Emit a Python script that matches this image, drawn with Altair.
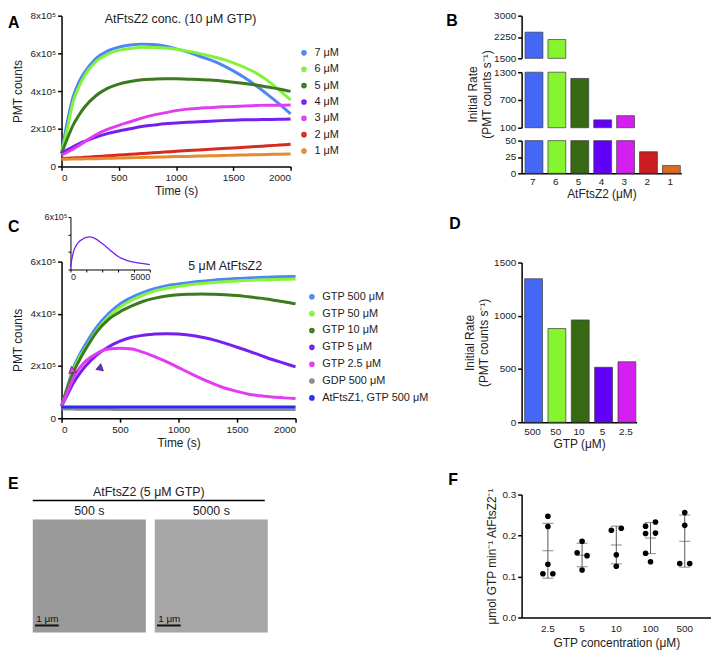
import altair as alt
import pandas as pd

FONT = "Liberation Sans"
EXPR5 = "datum.value == 0 ? '0' : datum.value + 'x10⁵'"

# ---------------- Panel A data (PMT counts, x10^5) ----------------
tA = [0, 50, 100, 150, 200, 300, 400, 500, 600, 700, 800, 900, 1000,
      1100, 1200, 1300, 1400, 1500, 1600, 1700, 1800, 1900, 2000]
concA = ["7 μM", "6 μM", "5 μM", "4 μM", "3 μM", "2 μM", "1 μM"]
colorsA = ["#4f87f2", "#82f23a", "#3c7a1e", "#7420f0", "#e23cf2", "#d62b1f", "#e58a2f"]
a7 = [0.68, 2.35, 3.67, 4.45, 4.98, 5.72, 6.12, 6.33, 6.44, 6.49, 6.47, 6.39, 6.24,
      6.08, 5.86, 5.65, 5.39, 5.07, 4.70, 4.28, 3.81, 3.32, 2.79]
a6 = [0.68, 2.00, 3.40, 4.20, 4.80, 5.56, 5.95, 6.16, 6.26, 6.32, 6.31, 6.28, 6.22,
      6.12, 6.00, 5.86, 5.70, 5.50, 5.25, 4.95, 4.55, 4.05, 3.53]
a5 = [0.68, 1.47, 2.18, 2.70, 3.14, 3.75, 4.14, 4.37, 4.51, 4.60, 4.63, 4.65, 4.65,
      4.63, 4.61, 4.58, 4.53, 4.47, 4.40, 4.32, 4.21, 4.11, 3.98]
a4 = [0.68, 0.88, 1.04, 1.20, 1.33, 1.56, 1.74, 1.88, 2.00, 2.12, 2.19, 2.26, 2.30,
      2.34, 2.37, 2.40, 2.43, 2.45, 2.47, 2.48, 2.49, 2.50, 2.51]
a3 = [0.60, 0.75, 0.91, 1.10, 1.30, 1.68, 1.96, 2.18, 2.37, 2.56, 2.72, 2.84, 2.96,
      3.04, 3.09, 3.12, 3.16, 3.18, 3.21, 3.23, 3.25, 3.25, 3.26]
a2 = [0.42, 0.43, 0.45, 0.46, 0.48, 0.52, 0.56, 0.60, 0.64, 0.68, 0.72, 0.76, 0.80,
      0.84, 0.87, 0.91, 0.95, 0.98, 1.02, 1.06, 1.09, 1.13, 1.17]
a1 = [0.38, 0.38, 0.39, 0.39, 0.40, 0.41, 0.43, 0.44, 0.46, 0.47, 0.49, 0.50, 0.52,
      0.53, 0.55, 0.56, 0.58, 0.59, 0.61, 0.62, 0.63, 0.65, 0.66]
seriesA = [a7, a6, a5, a4, a3, a2, a1]

# ---------------- Panel B data ----------------
concB = ["7", "6", "5", "4", "3", "2", "1"]
rateB = [2420, 2160, 1165, 270, 360, 33, 12]
colorsB = ["#4467f5", "#86f530", "#376914", "#6200f7", "#d41ff0", "#cc1b21", "#d86b25"]

# ---------------- Panel C data (PMT counts, x10^5) ----------------
tC = tA
condC = ["GTP 500 μM", "GTP 50 μM", "GTP 10 μM", "GTP 5 μM", "GTP 2.5 μM",
         "GDP 500 μM", "AtFtsZ1, GTP 500 μM"]
colorsC = ["#4f87f2", "#86f53a", "#3c7a1e", "#7420f0", "#e23cf2", "#8a8a8a", "#2a2af0"]
c500 = [0.46, 1.20, 1.91, 2.40, 2.80, 3.49, 4.00, 4.38, 4.63, 4.82, 4.97, 5.08, 5.14,
        5.20, 5.25, 5.29, 5.32, 5.35, 5.37, 5.39, 5.41, 5.42, 5.43]
c50 = [0.46, 1.15, 1.80, 2.30, 2.65, 3.35, 3.88, 4.25, 4.52, 4.72, 4.88, 4.98, 5.05,
       5.11, 5.16, 5.20, 5.23, 5.26, 5.28, 5.30, 5.31, 5.32, 5.33]
c10 = [0.46, 1.15, 1.75, 2.20, 2.60, 3.30, 3.78, 4.08, 4.30, 4.48, 4.60, 4.68, 4.73,
       4.75, 4.76, 4.75, 4.73, 4.70, 4.65, 4.60, 4.53, 4.46, 4.38]
c5 = [0.46, 0.90, 1.34, 1.68, 1.97, 2.42, 2.73, 2.95, 3.10, 3.18, 3.23, 3.24, 3.23,
      3.18, 3.10, 3.00, 2.87, 2.72, 2.57, 2.41, 2.25, 2.11, 1.97]
c25 = [0.46, 1.00, 1.53, 1.90, 2.16, 2.48, 2.65, 2.68, 2.65, 2.52, 2.35, 2.16, 1.94,
       1.72, 1.51, 1.32, 1.15, 1.03, 0.92, 0.86, 0.81, 0.78, 0.76]
cgdp = [0.36, 0.35, 0.35, 0.34, 0.34, 0.34, 0.34, 0.33, 0.33, 0.33, 0.33, 0.33, 0.33,
        0.33, 0.33, 0.33, 0.33, 0.33, 0.33, 0.33, 0.33, 0.33, 0.33]
cz1 = [0.43, 0.43, 0.43, 0.43, 0.43, 0.43, 0.43, 0.43, 0.43, 0.43, 0.43, 0.43, 0.43,
       0.43, 0.43, 0.43, 0.43, 0.43, 0.43, 0.43, 0.43, 0.43, 0.43]
seriesC = [c500, c50, c10, c5, c25, cgdp, cz1]
# arrowheads
triT = [100, 320]
triV = [1.81, 1.91]
triCol = ["#e23cf2", "#7420f0"]
triShape = ["triangle-right", "triangle-right"]
triAng = [20, 160]
# inset (GTP 5 μM, long run)
tIn = [0, 100, 200, 350, 500, 750, 1000, 1200, 1500, 2000, 2500, 3000, 3500, 4000, 4500, 5000]
vIn = [0.30, 1.30, 2.10, 2.70, 3.10, 3.45, 3.66, 3.72, 3.58, 2.97, 2.21, 1.49, 1.07, 0.84, 0.69, 0.55]

# ---------------- Panel D data ----------------
gtpD = ["500", "50", "10", "5", "2.5"]
rateD = [1348, 880, 961, 516, 568]
colorsD = ["#4467f5", "#86f530", "#376914", "#6200f7", "#d41ff0"]

# ---------------- Panel E ----------------
imgsE = ["500 s", "5000 s"]
shadesE = ["#9a9a9a", "#a6a6a6"]

# ---------------- Panel F data ----------------
gtpF = ["2.5", "5", "10", "100", "500"]
fCat = ["2.5"] * 5 + ["5"] * 4 + ["10"] * 4 + ["100"] * 6 + ["500"] * 4
fVal = [0.247, 0.222, 0.130, 0.107, 0.107,
        0.186, 0.158, 0.151, 0.116,
        0.213, 0.218, 0.153, 0.125,
        0.223, 0.233, 0.205, 0.206, 0.157, 0.136,
        0.256, 0.225, 0.132, 0.132]
fPos = ["C", "C", "C", "L", "R",
        "C", "L", "R", "C",
        "L", "R", "C", "C",
        "L", "R", "L", "R", "L", "C",
        "C", "C", "L", "R"]
fMean = [0.163, 0.152, 0.177, 0.194, 0.186]
fLo = [0.096, 0.124, 0.131, 0.156, 0.123]
fHi = [0.230, 0.181, 0.223, 0.232, 0.250]


def note(txt, x, y, **kw):
    return alt.Chart(pd.DataFrame({"txt": [txt]})).mark_text(**kw).encode(
        text="txt:N", x=alt.value(x), y=alt.value(y))


def letter(txt, x, y):
    return note(txt, x, y, fontSize=16, fontWeight="bold", align="left",
                baseline="alphabetic", color="black")


def legend(x, y, pad):
    return alt.Legend(orient="none", legendX=x, legendY=y, title=None, symbolType="circle",
                      symbolSize=6, symbolStrokeWidth=3.2, labelFontSize=11, clipHeight=11,
                      rowPadding=pad, labelOffset=5, padding=0)


# ================= Panel A =================
dfA = pd.DataFrame({"t": tA * len(concA), "v": sum(seriesA, []),
                    "s": [c for c in concA for _ in tA]})
linesA = alt.Chart(dfA).mark_line(strokeWidth=3, interpolate="monotone").encode(
    x=alt.X("t:Q", scale=alt.Scale(domain=[0, 2000], nice=False),
            axis=alt.Axis(orient="bottom", values=[0, 500, 1000, 1500, 2000], format="d",
                          title="Time (s)", titlePadding=3)),
    y=alt.Y("v:Q", scale=alt.Scale(domain=[0, 8], nice=False),
            axis=alt.Axis(orient="left", values=[0, 2, 4, 6, 8], labelExpr=EXPR5,
                          title="PMT counts", titlePadding=6)),
    color=alt.Color("s:N", scale=alt.Scale(domain=concA, range=colorsA),
                    legend=legend(239, 32, 4.5)),
)
chartA = alt.layer(
    linesA,
    note("AtFtsZ2 conc. (10 μM GTP)", 120, 3, fontSize=12.5, baseline="middle", color="#222"),
    letter("A", -54, 12),
).properties(width=231, height=152)

# ================= Panel C =================
dfC = pd.DataFrame({"t": tC * len(condC), "v": sum(seriesC, []),
                    "s": [c for c in condC for _ in tC]})
xC = alt.X("t:Q", scale=alt.Scale(domain=[0, 2000], nice=False),
           axis=alt.Axis(orient="bottom", values=[0, 500, 1000, 1500, 2000], format="d",
                         title="Time (s)", titlePadding=3))
yC = alt.Y("v:Q", scale=alt.Scale(domain=[0, 6], nice=False),
           axis=alt.Axis(orient="left", values=[0, 2, 4, 6], labelExpr=EXPR5,
                         title="PMT counts", titlePadding=6))
linesC = alt.Chart(dfC).mark_line(strokeWidth=3, interpolate="monotone").encode(
    x=xC, y=yC,
    color=alt.Color("s:N", scale=alt.Scale(domain=condC, range=colorsC),
                    legend=legend(247, 30, 5)),
)
dfTri = pd.DataFrame({"t": triT, "v": triV, "c": triCol, "shp": triShape, "ang": triAng})
triC = alt.Chart(dfTri).mark_point(filled=True, size=60, stroke="#222", strokeWidth=0.6,
                                   opacity=1).encode(
    x=xC, y=yC,
    fill=alt.Fill("c:N", scale=None),
    shape=alt.Shape("shp:N", scale=None),
    angle=alt.Angle("ang:Q", scale=None),
)
mainC = alt.layer(
    linesC, triC,
    note("5 μM AtFtsZ2", 165, 4, fontSize=12.5, baseline="middle", color="#222"),
    letter("C", -54, -30),
)
dfIn = pd.DataFrame({"t": tIn, "v": vIn})
insetC = alt.Chart(dfIn).mark_line(color="#7420f0", strokeWidth=1.3, interpolate="monotone").encode(
    x=alt.X("t:Q", scale=alt.Scale(domain=[0, 5000], range=[9, 89], nice=False),
            axis=alt.Axis(orient="bottom", offset=-150, values=[0, 1000, 2000, 3000, 4000, 5000],
                          labelExpr="datum.value == 0 || datum.value == 5000 ? datum.label : ''",
                          format="d", title=None, tickSize=2.5, tickWidth=1, domainWidth=1,
                          labelFontSize=9, labelPadding=1)),
    y=alt.Y("v:Q", scale=alt.Scale(domain=[0, 6], range=[8, -45], nice=False),
            axis=alt.Axis(orient="left", offset=-9, values=[0, 2, 4, 6],
                          labelExpr="datum.value == 6 ? '6x10⁵' : ''", title=None,
                          tickSize=2.5, tickWidth=1, domainWidth=1, labelFontSize=9,
                          labelPadding=1)),
)
chartC = alt.layer(mainC, insetC).resolve_scale(x="independent", y="independent").properties(
    width=236, height=158)

# ================= Panel E =================
dfE = pd.DataFrame({"img": imgsE, "shade": shadesE})
scE = alt.Scale(domain=imgsE, range=[-29, 208], paddingInner=0.073, paddingOuter=0)
rectE = alt.Chart(dfE).mark_rect().encode(
    x=alt.X("img:N", scale=scE, axis=None, bandPosition=0),
    x2=alt.X2("img:N", bandPosition=1),
    y=alt.value(6), y2=alt.value(120),
    fill=alt.Fill("shade:N", scale=None))
capE = alt.Chart(dfE).mark_text(fontSize=12.5, baseline="middle", color="#222").encode(
    x=alt.X("img:N", scale=scE, axis=None), y=alt.value(-2), text="img:N")
barE = alt.Chart(dfE).mark_rule(strokeWidth=2, color="#111").encode(
    x=alt.X("img:N", scale=scE, axis=None, bandPosition=0.02),
    x2=alt.X2("img:N", bandPosition=0.23), y=alt.value(113))
barTxtE = alt.Chart(dfE.assign(lab="1 μm")).mark_text(fontSize=10, align="left",
                                                       baseline="alphabetic", color="#111").encode(
    x=alt.X("img:N", scale=scE, axis=None, bandPosition=0.03), y=alt.value(109), text="lab:N")
ruleE = alt.Chart(dfE.head(1)).mark_rule(color="black", strokeWidth=1.5).encode(
    x=alt.value(-29), x2=alt.value(205), y=alt.value(-13))
chartE = alt.layer(
    rectE, capE, barE, barTxtE, ruleE,
    note("AtFtsZ2 (5 μM GTP)", 88, -22, fontSize=12.5, baseline="middle", color="#222"),
    letter("E", -54, -25),
).properties(width=208, height=120)

# ================= Panel B (broken axis) =================
dfB = pd.DataFrame({"conc": concB, "rate": rateB})
xB = alt.X("conc:N", sort=concB,
           scale=alt.Scale(domain=concB, paddingInner=0.33, paddingOuter=0.15),
           axis=alt.Axis(orient="bottom", offset=-17, ticks=False, labelAngle=0,
                         title="AtFtsZ2 (μM)", labelPadding=3, titlePadding=2))
segsB = [(1500, 3000, [1500, 2250, 3000], 43, 0, None),
         (100, 1300, [100, 700, 1300], 113, 57, ["Initial Rate", "(PMT counts s⁻¹)"]),
         (0, 50, [0, 25, 50], 159, 126, None)]
layersB = []
for lo, hi, vals, r0, r1, ttl in segsB:
    if ttl:
        ax = alt.Axis(orient="left", values=vals, format="d", title=ttl, titlePadding=0,
                      titleY=79)
    else:
        ax = alt.Axis(orient="left", values=vals, format="d", title=None)
    layersB.append(
        alt.Chart(dfB).transform_filter(alt.datum.rate > lo)
        .mark_bar(stroke="#3a3a3a", strokeWidth=0.7)
        .encode(
            x=xB,
            y=alt.Y("rate:Q", scale=alt.Scale(domain=[lo, hi], range=[r0, r1], clamp=True,
                                              nice=False, zero=False), axis=ax),
            y2=alt.datum(lo),
            color=alt.Color("conc:N", scale=alt.Scale(domain=concB, range=colorsB), legend=None),
        )
    )
chartB = alt.layer(*layersB, letter("B", -76, 10)).resolve_scale(y="independent").properties(
    width=161, height=176)

# ================= Panel D =================
dfD = pd.DataFrame({"gtp": gtpD, "rate": rateD})
chartD = alt.layer(
    alt.Chart(dfD).mark_bar(stroke="#3a3a3a", strokeWidth=0.7).encode(
        x=alt.X("gtp:N", sort=gtpD,
                scale=alt.Scale(domain=gtpD, paddingInner=0.33, paddingOuter=0.13),
                axis=alt.Axis(orient="bottom", ticks=False, labelAngle=0, title="GTP (μM)",
                              labelPadding=4, titlePadding=3)),
        y=alt.Y("rate:Q", scale=alt.Scale(domain=[0, 1500], nice=False),
                axis=alt.Axis(orient="left", values=[0, 500, 1000, 1500], format="d",
                              title=["Initial Rate", "(PMT counts s⁻¹)"], titlePadding=3)),
        color=alt.Color("gtp:N", scale=alt.Scale(domain=gtpD, range=colorsD), legend=None),
    ),
    letter("D", -73, -34),
).properties(width=116, height=161)

# ================= Panel F =================
dfF = pd.DataFrame({"gtp": fCat, "val": fVal, "pos": fPos})
dfFs = pd.DataFrame({"gtp": gtpF, "mean": fMean, "lo": fLo, "hi": fHi})
xF = alt.X("gtp:N", sort=gtpF,
           scale=alt.Scale(domain=gtpF, paddingInner=0.565, paddingOuter=0.55),
           axis=alt.Axis(orient="bottom", ticks=False, labelAngle=0, labelPadding=6,
                         title="GTP concentration (μM)", titlePadding=4))


def yF(field):
    return alt.Y(field, type="quantitative", scale=alt.Scale(domain=[0, 0.3], nice=False),
                 axis=alt.Axis(orient="left", values=[0, 0.1, 0.2, 0.3], format=".1f",
                               title="μmol GTP min⁻¹ AtFtsZ2⁻¹", titlePadding=3))


ptsF = alt.Chart(dfF).mark_circle(size=32, color="black", opacity=1).encode(
    x=xF, xOffset=alt.XOffset("pos:N", scale=alt.Scale(domain=["L", "C", "R"])), y=yF("val"))
errF = alt.Chart(dfFs).mark_rule(color="#555", strokeWidth=1).encode(
    x=xF, y=yF("lo"), y2="hi:Q")
tickF = alt.Chart(dfFs).transform_fold(["lo", "hi", "mean"], as_=["k", "v"]).mark_tick(
    orient="horizontal", size=11, thickness=1, color="#555").encode(x=xF, y=yF("v"))
chartF = alt.layer(errF, tickF, ptsF, letter("F", -74, -10)).properties(width=191, height=124)

# ================= Layout =================
leftCol = alt.vconcat(chartA, chartC, chartE, spacing=96, bounds="flush").resolve_scale(
    color="independent")
rightCol = alt.vconcat(chartB, chartD, chartF, spacing=73, bounds="flush").resolve_scale(
    color="independent")

chart = (
    alt.hconcat(leftCol, rightCol, spacing=17)
    .resolve_scale(color="independent")
    .properties(padding=0)
    .configure(font=FONT)
    .configure_view(stroke=None)
    .configure_axis(domainColor="black", domainWidth=1.5, tickColor="black", tickWidth=1.5,
                    tickSize=4, labelFontSize=10, labelColor="#222", titleFontSize=12,
                    titleFontWeight="normal", titleColor="#222", grid=False,
                    labelOverlap=False, labelPadding=2, labelFont=FONT, titleFont=FONT)
    .configure_legend(labelFont=FONT, labelColor="#222")
)

chart.save("out.html", embed_options={"renderer": "svg", "actions": False})
